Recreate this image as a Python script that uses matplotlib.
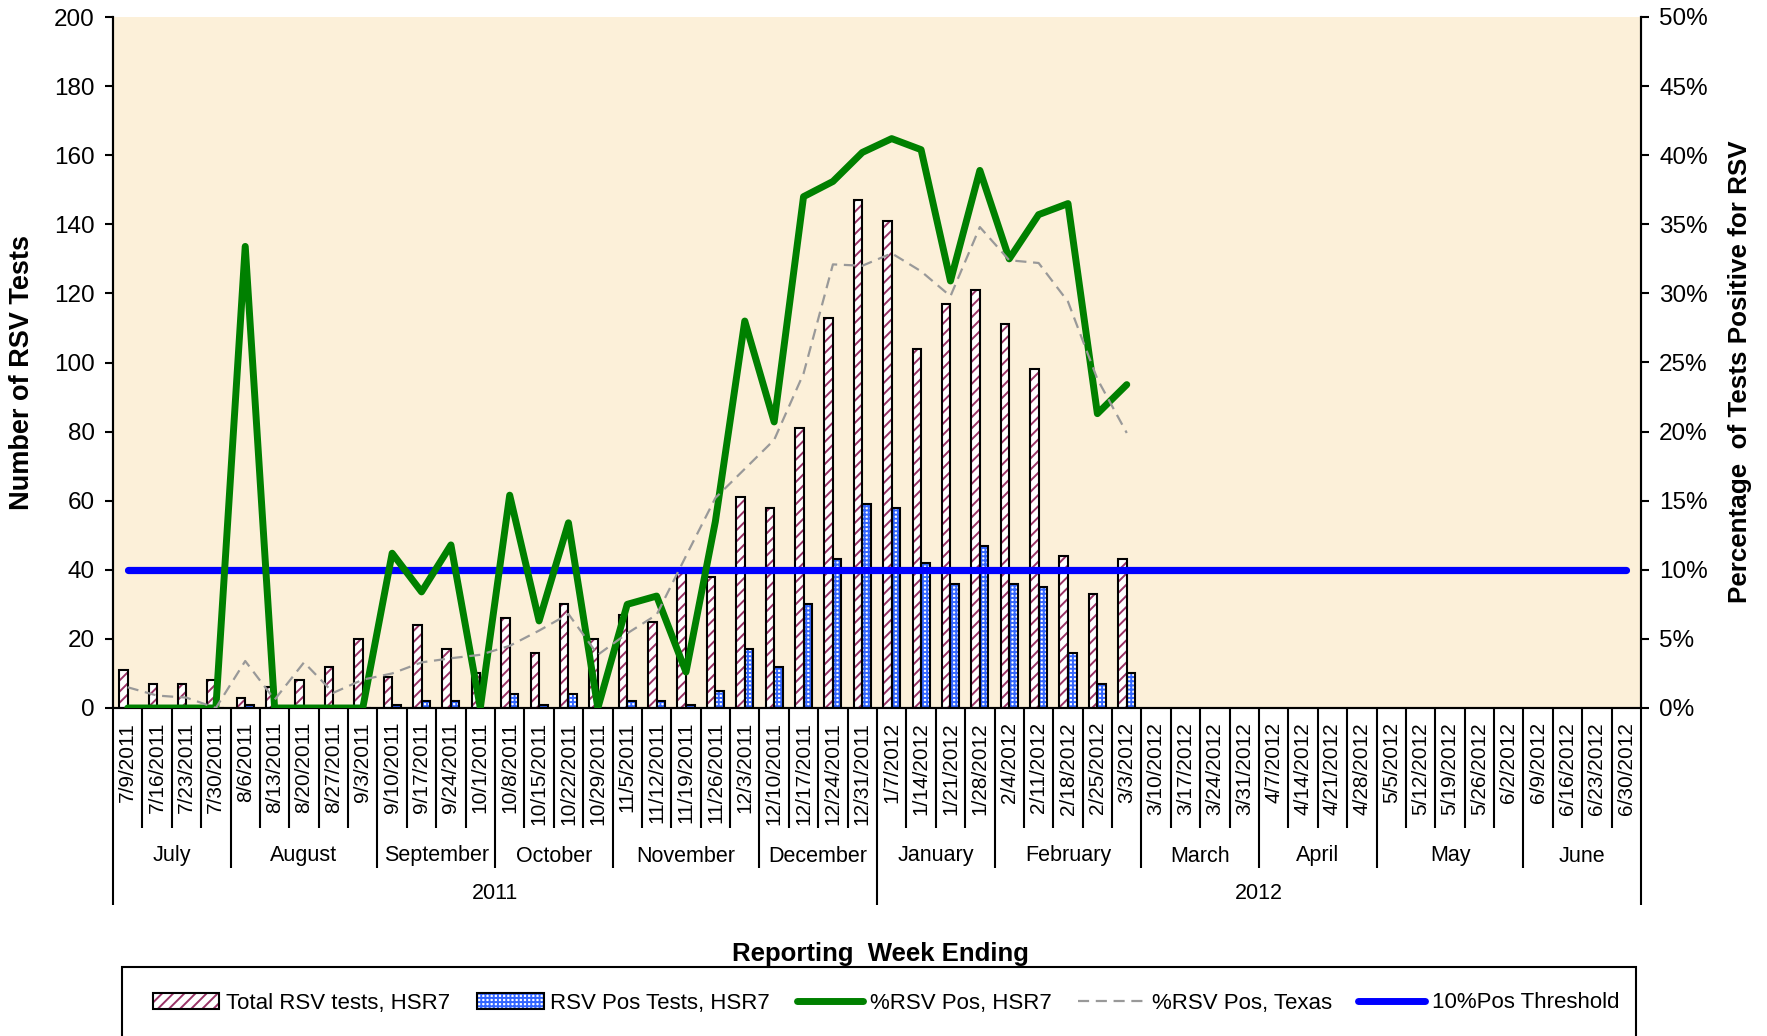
import matplotlib
matplotlib.use('Agg')
import matplotlib.pyplot as plt
from matplotlib.patches import Rectangle, Patch
from matplotlib.lines import Line2D
from matplotlib import transforms
import numpy as np

plt.rcParams['font.family'] = ['Liberation Sans', 'DejaVu Sans']
plt.rcParams['hatch.linewidth'] = 1.4

# ---------------- data ----------------
dates = ['7/9/2011', '7/16/2011', '7/23/2011', '7/30/2011', '8/6/2011', '8/13/2011',
         '8/20/2011', '8/27/2011', '9/3/2011', '9/10/2011', '9/17/2011', '9/24/2011',
         '10/1/2011', '10/8/2011', '10/15/2011', '10/22/2011', '10/29/2011', '11/5/2011',
         '11/12/2011', '11/19/2011', '11/26/2011', '12/3/2011', '12/10/2011', '12/17/2011',
         '12/24/2011', '12/31/2011', '1/7/2012', '1/14/2012', '1/21/2012', '1/28/2012',
         '2/4/2012', '2/11/2012', '2/18/2012', '2/25/2012', '3/3/2012', '3/10/2012',
         '3/17/2012', '3/24/2012', '3/31/2012', '4/7/2012', '4/14/2012', '4/21/2012',
         '4/28/2012', '5/5/2012', '5/12/2012', '5/19/2012', '5/26/2012', '6/2/2012',
         '6/9/2012', '6/16/2012', '6/23/2012', '6/30/2012']

total_tests = [11, 7, 7, 8, 3, 6, 8, 12, 20, 9, 24, 17, 10, 26, 16, 30, 20, 27, 25, 39,
               38, 61, 58, 81, 113, 147, 141, 104, 117, 121, 111, 98, 44, 33, 43]
pos_tests = [0, 0, 0, 0, 1, 0, 0, 0, 0, 1, 2, 2, 0, 4, 1, 4, 0, 2, 2, 1,
             5, 17, 12, 30, 43, 59, 58, 42, 36, 47, 36, 35, 16, 7, 10]
pct_pos_hsr7 = [0, 0, 0, 0, 33.4, 0, 0, 0, 0, 11.2, 8.4, 11.8, 0, 15.4, 6.3, 13.4, 0,
                7.5, 8.1, 2.6, 13.5, 28.0, 20.7, 37.0, 38.1, 40.2, 41.2, 40.4, 30.9,
                38.9, 32.5, 35.7, 36.5, 21.3, 23.4]
pct_pos_texas = [1.5, 0.9, 0.75, 0.0, 3.4, 0.6, 3.3, 1.1, 2.05, 2.5, 3.3, 3.6, 3.85,
                 4.5, 5.6, 6.8, 3.85, 5.4, 6.75, 11.0, 15.2, 17.3, 19.4, 24.2, 32.1,
                 32.0, 32.9, 31.6, 29.8, 34.8, 32.4, 32.2, 29.4, 23.8, 19.9]
threshold_pct = 10

months = ['July', 'August', 'September', 'October', 'November', 'December',
          'January', 'February', 'March', 'April', 'May', 'June']
month_weeks = [4, 5, 4, 4, 5, 4, 4, 5, 4, 4, 5, 4]
years = ['2011', '2012']
year_weeks = [26, 26]

# ---------------- figure ----------------
W, H = 1767, 1036
fig = plt.figure(figsize=(W / 100, H / 100), dpi=100)
L, R, T, B = 113, 1641, 17, 708
ax = fig.add_axes([L / W, 1 - B / H, (R - L) / W, (B - T) / H])
ax.set_facecolor('#FCF0D9')

n = len(dates)
x = np.arange(n)
nd = len(total_tests)
bw = 0.29
maroon = '#993366'
hblue = '#3366FF'

ax.bar(x[:nd] - bw / 2, total_tests, bw, facecolor='white', edgecolor=maroon,
       hatch='///', linewidth=0, zorder=2)
ax.bar(x[:nd] - bw / 2, total_tests, bw, fill=False, edgecolor='black',
       linewidth=1.5, zorder=3)
ax.bar(x[:nd] + bw / 2, pos_tests, bw, facecolor='white', edgecolor=hblue,
       hatch='++++', linewidth=0, zorder=2)
ax.bar(x[:nd] + bw / 2, pos_tests, bw, fill=False, edgecolor='black',
       linewidth=1.5, zorder=3)

ax.set_xlim(-0.5, n - 0.5)
ax.set_ylim(0, 200)
ax.set_yticks(range(0, 201, 20))
ax.set_xticks(x)
ax.set_xticklabels(dates, rotation=90, fontsize=15)
ax.tick_params(axis='x', length=0, pad=10)
ax.tick_params(axis='y', direction='out', length=6, width=1.5, labelsize=17.5, pad=7)
for s in ['left', 'right', 'bottom']:
    ax.spines[s].set_linewidth(1.5)
ax.spines['top'].set_visible(False)

ax2 = ax.twinx()
ax2.set_ylim(0, 50)
ax2.set_yticks(range(0, 51, 5))
ax2.set_yticklabels([f'{v}%' for v in range(0, 51, 5)])
ax2.tick_params(axis='y', direction='out', length=6, width=1.5, labelsize=17.5, pad=7)
for s in ['left', 'right', 'bottom']:
    ax2.spines[s].set_linewidth(1.5)
ax2.spines['top'].set_visible(False)

ax2.plot(x, [threshold_pct] * n, color='#0000FF', lw=5.2, solid_capstyle='round', zorder=3)
ax2.plot(x[:nd], pct_pos_hsr7, color='#008000', lw=5, solid_joinstyle='round',
         solid_capstyle='round', zorder=4)
ax2.plot(x[:nd], pct_pos_texas, color='#999999', lw=1.6, dashes=(5, 3), zorder=5)

# ---------------- hierarchical category axis ----------------
trans = transforms.blended_transform_factory(ax.transData, ax.transAxes)
ah = B - T
cat_bot = -(828 - B) / ah
mon_bot = -(868 - B) / ah
yr_bot = -(905 - B) / ah
mon_bounds = set(np.cumsum([0] + month_weeks))
yr_bounds = set(np.cumsum([0] + year_weeks))
xs, bots = [], []
for b in range(n + 1):
    xs.append(b - 0.5)
    if b in yr_bounds:
        bots.append(yr_bot)
    elif b in mon_bounds:
        bots.append(mon_bot)
    else:
        bots.append(cat_bot)
ax.vlines(xs, [0] * len(xs), bots, transform=trans, colors='black', lw=1.5, clip_on=False)

start = 0
for m, c in zip(months, month_weeks):
    ax.text(start + (c - 1) / 2, -(856 - B) / ah, m, transform=trans, ha='center',
            va='center', fontsize=15.5)
    start += c
start = 0
for yv, c in zip(years, year_weeks):
    ax.text(start + (c - 1) / 2, -(894 - B) / ah, yv, transform=trans, ha='center',
            va='center', fontsize=15.5)
    start += c

# ---------------- axis titles ----------------
fig.text(22 / W, 1 - 372 / H, 'Number of RSV Tests', rotation=90, ha='center',
         va='center', fontsize=19.5, fontweight='bold')
fig.text(1740 / W, 1 - 372 / H, 'Percentage  of Tests Positive for RSV', rotation=90,
         ha='center', va='center', fontsize=18.7, fontweight='bold')
fig.text(880 / W, 1 - 954 / H, 'Reporting  Week Ending', ha='center', va='center',
         fontsize=18.5, fontweight='bold')

# ---------------- legend ----------------
fig.add_artist(Rectangle((122 / W, -0.05), (1636 - 122) / W, (1 - 967 / H) + 0.05,
                         transform=fig.transFigure, fill=False, edgecolor='black', lw=1.5))
handles = [
    (Patch(facecolor='white', edgecolor=maroon, hatch='///', lw=0),
     Patch(fill=False, edgecolor='black', lw=1.5)),
    (Patch(facecolor='white', edgecolor=hblue, hatch='++++', lw=0),
     Patch(fill=False, edgecolor='black', lw=1.5)),
    Line2D([], [], color='#008000', lw=5, solid_capstyle='round'),
    Line2D([], [], color='#999999', lw=1.6, dashes=(5, 3)),
    Line2D([], [], color='#0000FF', lw=5, solid_capstyle='round'),
]
labels = ['Total RSV tests, HSR7', 'RSV Pos Tests, HSR7', '%RSV Pos, HSR7',
          '%RSV Pos, Texas', '10%Pos Threshold']
fig.legend(handles, labels, loc='center', bbox_to_anchor=(886 / W, 1 - 1003 / H), ncol=5,
           frameon=False, fontsize=16, handlelength=3.0, handletextpad=0.3,
           columnspacing=1.2, handleheight=0.7)

fig.savefig('out.png', dpi=100)
